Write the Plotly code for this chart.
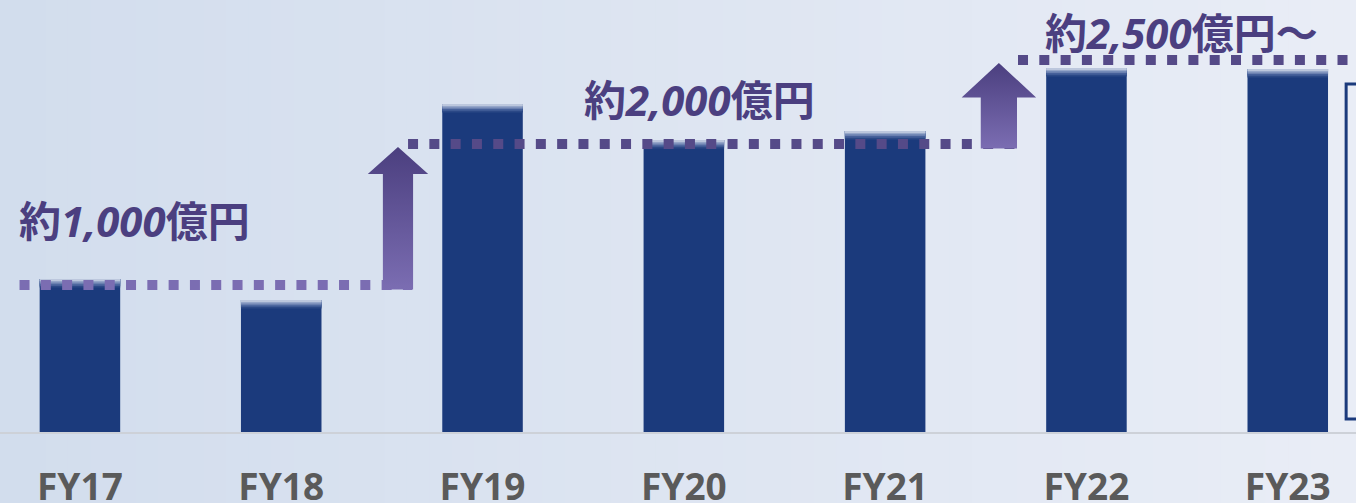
import plotly.graph_objects as go

# ---- data (億円) ----
categories = ["FY17", "FY18", "FY19", "FY20", "FY21", "FY22", "FY23"]
values = [1044, 901, 2239, 1993, 2055, 2485, 2478]
levels = [1003, 1966, 2539]
level_labels = ["約<i>1,000</i>億円", "約<i>2,000</i>億円", "約<i>2,500</i>億円～"]
# line spans in category units (start, end)
level_spans = [(-0.30, 1.65), (1.63, 4.65), (4.66, 6.40)]
arrow_x = [1.58, 4.565]
label_pos = [(0.27, 1447), (3.08, 2273), (5.47, 2730)]

NAVY = "#1b3a7c"
PURPLE_TXT = "#4b3f80"
x = list(range(len(categories)))

fig = go.Figure()

# bars with a soft faded top (drawn as thin stacked bands)
fade = 70
fig.add_trace(go.Bar(x=x, y=values, marker=dict(color=NAVY, line=dict(width=0)),
                     width=0.40, hoverinfo="skip"))
band_cols = ["#2b4886", "#46609a", "#6a80b0", "#95a6c9", "#bcc7dd"]
nb = len(band_cols)
for j, bc in enumerate(band_cols):
    frac_lo = (j + 1) / (nb + 1)
    fig.add_trace(go.Bar(x=x, y=[fade * (1 - frac_lo)] * len(values),
                         base=[v - fade * (1 - frac_lo) for v in values],
                         marker=dict(color=bc, line=dict(width=0)), width=0.40, hoverinfo="skip"))

# dotted level lines
line_colors = ["#7b6db2", "#554a88", "#554a88"]
for lv, (a, b), c in zip(levels, level_spans, line_colors):
    fig.add_trace(go.Scatter(x=[a, b], y=[lv, lv], mode="lines",
                             line=dict(color=c, width=10, dash="10px,11.3px"), hoverinfo="skip"))

# arrows between levels
arrow_dims = [(0.075, 0.15, 205), (0.09, 0.185, 255)]
for i, ax in enumerate(arrow_x):
    lo, hi = levels[i], levels[i + 1]
    sw, hw, hh = arrow_dims[i]
    hb = hi - hh
    xs = [ax - sw, ax - sw, ax - hw, ax, ax + hw, ax + sw, ax + sw, ax - sw]
    ys = [lo - 30, hb, hb, hi - 20, hb, hb, lo - 30, lo - 30]
    fig.add_trace(go.Scatter(x=xs, y=ys, mode="lines", fill="toself", line=dict(width=0),
                             fillgradient=dict(type="vertical",
                                               colorscale=[[0, "#7b6db2"], [1, "#4b3f7f"]]),
                             hoverinfo="skip"))

# level labels
for (lx, ly), t in zip(label_pos, level_labels):
    fig.add_annotation(x=lx, y=ly, text="<b>" + t + "</b>", showarrow=False,
                       font=dict(family="Noto Sans, Noto Sans CJK JP", size=42, color=PURPLE_TXT),
                       xanchor="center", yanchor="middle")

# background gradient (horizontal strips)
n = 60
c0 = (210, 221, 237)
c1 = (233, 237, 246)
shapes = []
for k in range(n):
    t = k / (n - 1)
    col = "rgb(%d,%d,%d)" % tuple(round(c0[j] + (c1[j] - c0[j]) * t) for j in range(3))
    shapes.append(dict(type="rect", xref="paper", yref="paper", x0=k / n, x1=(k + 1) / n + 0.002,
                       y0=-0.3, y1=1.05, fillcolor=col, line=dict(width=0), layer="below"))
# right-hand framed box (partially visible)
shapes.append(dict(type="rect", xref="x", yref="y", x0=6.29, x1=6.6, y0=89, y1=2375,
                   line=dict(color=NAVY, width=3), fillcolor="rgba(0,0,0,0)", layer="above"))

fig.update_layout(
    width=1356, height=503,
    margin=dict(l=0, r=0, t=0, b=71, autoexpand=False),
    barmode="overlay",
    showlegend=False,
    paper_bgcolor="rgb(222,229,241)",
    plot_bgcolor="rgba(0,0,0,0)",
    shapes=shapes,
    xaxis=dict(range=[-0.397, 6.339], tickmode="array", tickvals=x, ticktext=categories,
               showgrid=False, zeroline=False, showline=True, linecolor="#cdd1d8", linewidth=2,
               ticks="", ticklabelstandoff=22, automargin=False,
               tickfont=dict(family="Noto Sans", size=37, color="#5a5a5a", weight="bold")),
    yaxis=dict(range=[0, 432 / 0.1465], showgrid=False, zeroline=False, showticklabels=False,
               showline=False, automargin=False),
)

fig.write_html("out.html", config={"displayModeBar": False},
               post_script="document.body.style.margin='0';document.body.style.overflow='hidden';")
